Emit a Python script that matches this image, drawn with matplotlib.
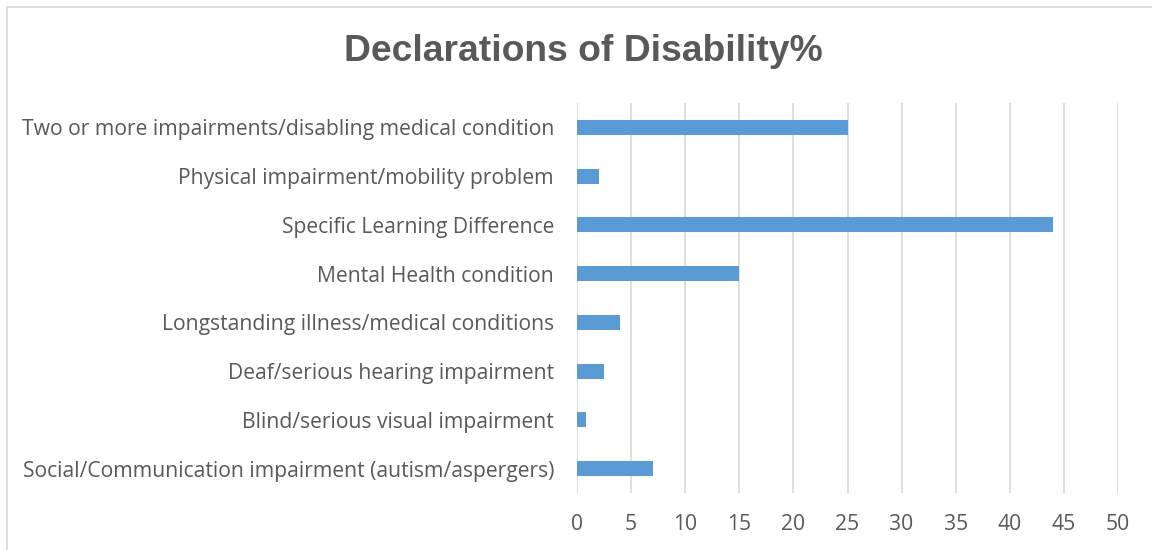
import matplotlib
matplotlib.use("Agg")
import matplotlib.pyplot as plt
from matplotlib.lines import Line2D

categories = [
    "Social/Communication impairment (autism/aspergers)",
    "Blind/serious visual impairment",
    "Deaf/serious hearing impairment",
    "Longstanding illness/medical conditions",
    "Mental Health condition",
    "Specific Learning Difference",
    "Physical impairment/mobility problem",
    "Two or more impairments/disabling medical condition",
]
values = [7, 0.8, 2.5, 4, 15, 44, 2, 25]
xticks = [0, 5, 10, 15, 20, 25, 30, 35, 40, 45, 50]
title = "Declarations of Disability%"

W, H = 1152, 550
fig = plt.figure(figsize=(W / 100, H / 100), dpi=100)
fig.patch.set_facecolor("white")

# chart border (left and top visible)
fig.add_artist(Line2D([7 / W, 7 / W], [0, 1 - 7 / H], color="#D9D9D9", lw=1.2, transform=fig.transFigure))
fig.add_artist(Line2D([7 / W, 1], [1 - 7 / H, 1 - 7 / H], color="#D9D9D9", lw=1.2, transform=fig.transFigure))

left, right, top, bottom = 577, 1118, 103, 493
ax = fig.add_axes([left / W, 1 - bottom / H, (right - left) / W, (bottom - top) / H])

ax.barh(range(len(categories)), values, height=0.31, color="#5B9BD5", zorder=3)
ax.set_xlim(0, 50)
ax.set_ylim(-0.5, len(categories) - 0.5)
ax.set_xticks(xticks)
ax.set_xticklabels([str(t) for t in xticks])
ax.set_yticks(range(len(categories)))
ax.set_yticklabels(categories)
for s in ax.spines.values():
    s.set_visible(False)
ax.grid(axis="x", color="#D9D9D9", lw=1.2, zorder=0)
ax.tick_params(axis="both", length=0, labelsize=15.2, labelcolor="#595959")
ax.tick_params(axis="y", pad=16.5)
ax.tick_params(axis="x", pad=15)
for lab in ax.get_xticklabels() + ax.get_yticklabels():
    lab.set_fontfamily("Open Sans")

fig.text(583 / W, 1 - 61 / H, title, ha="center", va="baseline", fontsize=26.8,
         fontweight="bold", color="#595959", fontfamily="Liberation Sans")

fig.savefig("out.png", dpi=100, facecolor="white")
